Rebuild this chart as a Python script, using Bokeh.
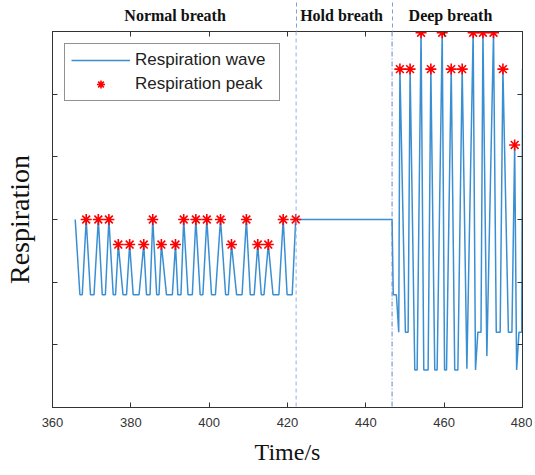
import math
from bokeh.plotting import figure
from bokeh.models import (Range1d, LinearAxis, FixedTicker, Span, Legend,
                          LegendItem, CustomJSTickFormatter)
from bokeh.embed import file_html
from bokeh.resources import INLINE

# ---------------- data ----------------
wave_t = [365.8, 367.0, 367.6, 368.6, 369.7, 370.6, 371.7, 372.7, 373.5, 374.4,
          375.5, 376.1, 376.8, 378.0, 378.9, 379.7, 380.6, 382.1, 383.3, 384.0,
          384.9, 385.6, 386.6, 387.2, 387.8, 389.1, 390.6, 391.4, 392.0, 392.8,
          393.5, 394.6, 395.7, 396.6, 397.7, 398.4, 399.4, 400.6, 401.6, 402.9,
          404.2, 404.9, 405.7, 407.0, 408.4, 409.5, 410.5, 411.5, 412.4, 413.3,
          414.0, 415.1, 416.3, 417.8, 418.9, 419.9, 421.2, 422.1,
          446.7, 447.0, 447.8, 448.4, 448.7, 450.1, 450.8, 451.3, 452.5, 453.1,
          454.1, 454.8, 455.9, 456.6, 457.6, 458.2, 459.5, 460.1, 460.6, 461.8,
          462.7, 463.5, 464.6, 465.8, 467.4, 468.0, 468.6, 469.4, 469.9, 470.9,
          472.6, 473.3, 474.3, 475.0, 476.4, 477.3, 478.0, 478.5, 479.1, 479.8,
          480.0]
wave_y = [3.0, 1.8, 1.8, 3.0, 1.8, 1.8, 3.0, 1.8, 1.8, 3.0,
          1.8, 1.8, 2.6, 1.8, 1.8, 2.6, 1.8, 1.8, 2.6, 1.8,
          1.8, 3.0, 1.8, 1.8, 2.6, 1.8, 1.8, 2.6, 1.8, 1.8,
          3.0, 1.8, 1.8, 3.0, 1.8, 1.8, 3.0, 1.8, 1.8, 3.0,
          1.8, 1.8, 2.6, 1.8, 1.8, 3.0, 1.8, 1.8, 2.6, 1.8,
          1.8, 2.6, 1.8, 1.8, 3.0, 1.8, 1.8, 3.0,
          3.0, 1.8, 1.8, 1.2, 5.4, 1.2, 1.2, 5.4, 0.6, 0.6,
          5.98, 0.6, 0.6, 5.4, 0.6, 0.6, 5.98, 0.6, 0.6, 5.4,
          0.6, 0.6, 5.4, 0.62, 5.98, 0.6, 1.2, 1.2, 5.98, 0.82,
          5.98, 1.2, 1.2, 5.4, 1.2, 1.2, 4.19, 0.6, 1.2, 1.2,
          5.4]

peak_t = [368.6, 371.7, 374.4, 376.8, 379.7, 383.3, 385.6, 387.8, 391.4, 393.5,
          396.6, 399.4, 402.9, 405.7, 409.5, 412.4, 415.1, 418.9, 422.1,
          448.7, 451.3, 454.1, 456.6, 459.5, 461.8, 464.6, 467.4, 469.9, 472.6,
          475.0, 478.0]
peak_y = [3.0, 3.0, 3.0, 2.6, 2.6, 2.6, 3.0, 2.6, 2.6, 3.0,
          3.0, 3.0, 3.0, 2.6, 3.0, 2.6, 2.6, 3.0, 3.0,
          5.4, 5.4, 5.98, 5.4, 5.98, 5.4, 5.4, 5.98, 5.98, 5.98,
          5.4, 4.19]

x_ticks = [360, 380, 400, 420, 440, 460, 480]
y_ticks = [0, 1, 2, 3, 4, 5, 6]
phase_bounds = [422.2, 446.7]
phase_names = ["Normal breath", "Hold breath", "Deep breath"]
phase_label_x = [391.3, 433.8, 461.6]
y_title = "Respiration"
x_title = "Time/s"

X0, X1 = 360, 480
Y0, Y1 = 0, 6

# ---------------- figure ----------------
p = figure(width=532, height=472, output_backend="svg", toolbar_location=None,
           x_range=Range1d(X0, X1), y_range=Range1d(Y0, Y1),
           min_border_left=52, min_border_right=10, min_border_top=31,
           min_border_bottom=65)
p.xgrid.visible = False
p.ygrid.visible = False
p.outline_line_color = "#333333"
p.outline_line_width = 1
p.background_fill_color = "white"
p.border_fill_color = "white"

axis_col = "#333333"


def style_axis(ax, ticks, show_labels):
    ax.ticker = FixedTicker(ticks=ticks)
    ax.major_tick_in = 5
    ax.major_tick_out = 0
    ax.minor_tick_line_color = None
    ax.axis_line_color = axis_col
    ax.axis_line_width = 1
    ax.major_tick_line_color = axis_col
    if show_labels:
        ax.major_label_text_font = "Liberation Sans"
        ax.major_label_text_font_size = "13px"
        ax.major_label_text_color = "#333333"
        ax.major_label_standoff = 10
    else:
        ax.formatter = CustomJSTickFormatter(code="return ''")
        ax.major_label_text_font_size = "0px"
        ax.major_label_standoff = 1


xa = p.xaxis[0]
ya = p.yaxis[0]
style_axis(xa, x_ticks, True)
style_axis(ya, y_ticks, False)
xa.axis_label = x_title
xa.axis_label_text_font = "Liberation Serif"
xa.axis_label_text_font_size = "24px"
xa.axis_label_text_font_style = "normal"
xa.axis_label_text_color = "#111111"
xa.axis_label_standoff = 9
ya.axis_label = y_title
ya.axis_label_text_font = "Liberation Serif"
ya.axis_label_text_font_size = "28px"
ya.axis_label_text_font_style = "normal"
ya.axis_label_text_color = "#111111"
ya.axis_label_standoff = 18

top_ax = LinearAxis()
right_ax = LinearAxis()
style_axis(top_ax, x_ticks, False)
style_axis(right_ax, y_ticks, False)
p.add_layout(top_ax, "above")
p.add_layout(right_ax, "right")

# phase names on an extra top axis; phase boundaries continue above the box as minor ticks
phase_ax = LinearAxis(ticker=FixedTicker(ticks=phase_label_x, minor_ticks=phase_bounds),
                      major_label_overrides={xv: n for xv, n in zip(phase_label_x, phase_names)},
                      axis_line_color=None, major_tick_line_color=None,
                      major_tick_in=0, major_tick_out=0,
                      minor_tick_line_color="#7f9edc", minor_tick_line_dash="4 3",
                      minor_tick_line_width=1, minor_tick_in=0, minor_tick_out=29,
                      major_label_standoff=-21, major_label_text_font="Liberation Serif",
                      major_label_text_font_style="bold", major_label_text_font_size="16px",
                      major_label_text_color="#111111")
p.add_layout(phase_ax, "above")

# phase separators
p.add_layout(Span(location=phase_bounds[0], dimension="height",
                  line_color="#93b0e3", line_width=1, line_dash="4 3"))
p.add_layout(Span(location=phase_bounds[1], dimension="height",
                  line_color="#5f83cf", line_width=1, line_dash="5 2 1 2"))

wave = p.line(wave_t, wave_y, line_color="#3a8fd3", line_width=1.5)
peaks = p.scatter(peak_t, peak_y, marker="asterisk", size=11, line_color="#ff0000",
                  line_width=1.6)

legend = Legend(items=[LegendItem(label="Respiration wave", renderers=[wave]),
                       LegendItem(label="Respiration peak", renderers=[peaks])],
                location="top_left", margin=12, padding=6, spacing=4,
                glyph_width=59, glyph_height=20, label_height=20, label_width=138,
                label_standoff=5,
                label_text_font="Liberation Sans", label_text_font_size="17px",
                label_text_color="#222222", border_line_color="#262626",
                border_line_width=1, background_fill_alpha=1.0)
p.add_layout(legend)

open("out.html", "w").write(file_html(p, INLINE))
